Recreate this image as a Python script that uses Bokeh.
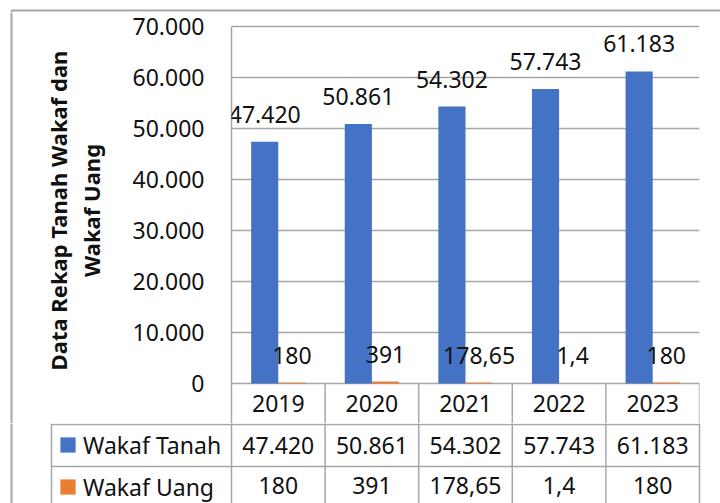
import math
from bokeh.plotting import figure
from bokeh.layouts import column, row
from bokeh.models import (ColumnDataSource, FactorRange, Range1d, LabelSet,
                          Legend, LegendItem, FixedTicker, CustomJSTickFormatter)
from bokeh.core.properties import value
from bokeh.transform import dodge
from bokeh.embed import file_html
from bokeh.resources import INLINE

# ---- data ----
years = ["2019", "2020", "2021", "2022", "2023"]
wakaf_tanah = [47420, 50861, 54302, 57743, 61183]
wakaf_uang = [180, 391, 178.65, 1.4, 180]
series_names = ["Wakaf Tanah", "Wakaf Uang"]
y_ticks = [0, 10000, 20000, 30000, 40000, 50000, 60000, 70000]
axis_title = ["Data Rekap Tanah Wakaf dan", "Wakaf Uang"]


def fmt(v):
    if float(v).is_integer():
        return f"{int(v):,}".replace(",", ".")
    s = f"{v:,}"
    return s.replace(",", "#").replace(".", ",").replace("#", ".")


tanah_lbl = [fmt(v) for v in wakaf_tanah]
uang_lbl = [fmt(v) for v in wakaf_uang]
src = ColumnDataSource(dict(years=years, tanah=wakaf_tanah, uang=wakaf_uang,
                            tanah_lbl=tanah_lbl, uang_lbl=uang_lbl))

# ---- style / layout constants (pixels) ----
FONT = "Noto Sans"
FS = "23px"
TXT = "#111111"
GRID = "#A6A6A6"
BLUE = "#4472C4"
ORANGE = "#ED7D31"
W = 720
PLOT_L, PLOT_R = 231, 699          # plot area left/right
Y_TOP, Y_ZERO = 26, 383            # pixel of max tick / of zero
STRIP = 12                         # top decoration strip
SPLIT = 423                        # chart / table split
H = 503
CAT_W = (PLOT_R - PLOT_L) / len(years)
ROW_H = 42
ROW0 = 424                         # top line of first table row
BORDER_X, BORDER_Y = 11, 10
LEG_X = 51


def bare(fig):
    fig.outline_line_color = None
    fig.xgrid.visible = False
    fig.ygrid.visible = False
    return fig


# ---- top strip (outer chart border) ----
top = bare(figure(width=W, height=STRIP, x_range=Range1d(0, W),
                  y_range=Range1d(0, STRIP), x_axis_location=None,
                  y_axis_location=None, output_backend="svg",
                  toolbar_location=None, min_border=0))
top.segment(x0=[BORDER_X, BORDER_X], y0=[STRIP - BORDER_Y, 0],
            x1=[W, BORDER_X], y1=[STRIP - BORDER_Y, STRIP - BORDER_Y],
            line_color=GRID, line_width=2)

# ---- left strip (axis title) ----
LW = 121
left = bare(figure(width=LW, height=SPLIT - STRIP, x_range=Range1d(0, LW),
                   y_range=Range1d(0, SPLIT - STRIP), x_axis_location=None,
                   y_axis_location=None, output_backend="svg",
                   toolbar_location=None, min_border=0))
left.segment(x0=[BORDER_X], y0=[0], x1=[BORDER_X], y1=[SPLIT - STRIP],
             line_color=GRID, line_width=2)
left.text(x=[57, 90], y=[SPLIT - 210] * 2, text=axis_title, angle=math.pi / 2,
          text_align="center", text_baseline="alphabetic",
          text_font=value(FONT), text_font_size=value("22px"),
          text_font_style="bold", text_color=TXT)

# ---- main chart ----
k = max(y_ticks) / (Y_ZERO - Y_TOP)
y_start = -(SPLIT - Y_ZERO) * k
y_end = max(y_ticks) + (Y_TOP - STRIP) * k
p = figure(width=W - LW, height=SPLIT - STRIP,
           x_range=FactorRange(*years, range_padding=0),
           y_range=Range1d(y_start, y_end),
           output_backend="svg", toolbar_location=None,
           x_axis_location=None,
           min_border_left=PLOT_L - LW, min_border_right=W - PLOT_R,
           min_border_top=0, min_border_bottom=0)
p.outline_line_color = None

bw = 0.29
r1 = p.vbar(x=dodge("years", -bw / 2, range=p.x_range), top="tanah", width=bw,
            source=src, fill_color=BLUE, line_color=None)
r2 = p.vbar(x=dodge("years", bw / 2, range=p.x_range), top="uang", width=bw,
            source=src, fill_color=ORANGE, line_color=None)

ya = p.yaxis[0]
ya.ticker = FixedTicker(ticks=y_ticks)
ya.bounds = (y_start, max(y_ticks))
ya.formatter = CustomJSTickFormatter(
    code=r"return tick.toString().replace(/\B(?=(\d{3})+(?!\d))/g, '.');")
ya.major_tick_line_color = None
ya.minor_tick_line_color = None
ya.major_tick_out = 0
ya.major_tick_in = 0
ya.major_label_standoff = 27
ya.axis_line_color = GRID
ya.axis_line_width = 1.5
ya.major_label_text_font = FONT
ya.major_label_text_font_size = FS
ya.major_label_text_color = TXT

p.xgrid.visible = False
p.ygrid.ticker = FixedTicker(ticks=y_ticks)
p.ygrid.grid_line_color = GRID
p.ygrid.grid_line_width = 1.5

# data labels
for xoff, col in [(-bw / 2, "tanah"), (bw / 2, "uang")]:
    p.add_layout(LabelSet(x=dodge("years", xoff, range=p.x_range), y=col,
                          text=col + "_lbl", source=src, y_offset=19,
                          text_align="center", text_baseline="alphabetic",
                          text_font=value(FONT), text_font_size=value(FS),
                          text_color=TXT))

# header row of the data table (years)
p.text(x=years, y=[-(403 - Y_ZERO) * k] * len(years), text=years,
       text_align="center", text_baseline="alphabetic",
       text_font=value(FONT), text_font_size=value(FS), text_color=TXT)
nb = len(years)
p.segment(x0=list(range(1, nb + 1)), y0=[y_start] * nb,
          x1=list(range(1, nb + 1)), y1=[0] * nb,
          line_color=GRID, line_width=1.5)

# ---- data table rows ----
xr0 = -PLOT_L / CAT_W
xr1 = (W - PLOT_L) / CAT_W
b_top = (ROW0 - SPLIT) / ROW_H
b_bot = -(H - ROW0) / ROW_H
tb = bare(figure(width=W, height=H - SPLIT, x_range=Range1d(xr0, xr1),
                 y_range=Range1d(b_bot, b_top), x_axis_location=None,
                 y_axis_location=None, output_backend="svg",
                 toolbar_location=None, min_border=0))
leg_x = (LEG_X - PLOT_L) / CAT_W
brd_x = (BORDER_X - PLOT_L) / CAT_W
vx = [brd_x, leg_x] + list(range(0, nb + 1))
tb.segment(x0=vx, y0=[b_bot] * len(vx), x1=vx, y1=[b_top] * len(vx),
           line_color=GRID, line_width=[2, 1.5] + [1.5] * (nb + 1))
tb.segment(x0=[leg_x, leg_x], y0=[0, -1], x1=[nb, nb], y1=[0, -1],
           line_color=GRID, line_width=1.5)
xs = [i + 0.5 for i in range(nb)]
row_base = [-(445 - ROW0) / ROW_H, -(485 - ROW0) / ROW_H]
tb.text(x=xs, y=[row_base[0]] * nb, text=tanah_lbl, text_align="center",
        text_baseline="alphabetic", text_font=value(FONT),
        text_font_size=value(FS), text_color=TXT)
tb.text(x=xs, y=[row_base[1]] * nb, text=uang_lbl, text_align="center",
        text_baseline="alphabetic", text_font=value(FONT),
        text_font_size=value(FS), text_color=TXT)

# legend keys (hidden twins of the bar series, shown only in the legend)
k1 = tb.vbar(x=xs, top=wakaf_tanah, width=bw, fill_color=BLUE,
             line_color=None, visible=False)
k2 = tb.vbar(x=xs, top=wakaf_uang, width=bw, fill_color=ORANGE,
             line_color=None, visible=False)
legend = Legend(items=[LegendItem(label=series_names[0], renderers=[k1]),
                       LegendItem(label=series_names[1], renderers=[k2])],
                location=(58, 0.5), orientation="vertical",
                glyph_width=19, glyph_height=19, label_standoff=6,
                label_height=32, spacing=10, padding=0, margin=0,
                border_line_color=None, background_fill_alpha=0,
                inactive_fill_alpha=0,
                label_text_font=FONT, label_text_font_size=FS,
                label_text_color=TXT)
tb.add_layout(legend)

layout = column(top, row(left, p), tb)
open("out.html", "w").write(file_html(layout, INLINE))
